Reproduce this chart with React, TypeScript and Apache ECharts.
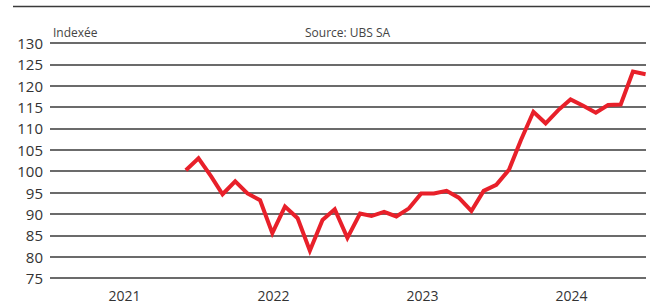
import React, { useEffect, useRef } from "react";
import * as echarts from "echarts";

const years = ["2021", "2022", "2023", "2024"];
const months = [
  "2021-11", "2021-12",
  "2022-01", "2022-02", "2022-03", "2022-04", "2022-05", "2022-06",
  "2022-07", "2022-08", "2022-09", "2022-10", "2022-11", "2022-12",
  "2023-01", "2023-02", "2023-03", "2023-04", "2023-05", "2023-06",
  "2023-07", "2023-08", "2023-09", "2023-10", "2023-11", "2023-12",
  "2024-01", "2024-02", "2024-03", "2024-04", "2024-05", "2024-06",
  "2024-07", "2024-08", "2024-09", "2024-10", "2024-11", "2024-12",
];
const values = [
  100.2, 103.0,
  98.8, 94.6, 97.6, 94.8, 93.2, 85.5,
  91.7, 89.0, 81.4, 88.6, 91.1, 84.4,
  90.1, 89.5, 90.5, 89.4, 91.3, 94.8,
  94.8, 95.4, 93.8, 90.7, 95.4, 96.8,
  100.3, 107.2, 113.9, 111.2, 114.3, 116.8,
  115.3, 113.7, 115.5, 115.6, 123.3, 122.7,
];
const yTicks = [75, 80, 85, 90, 95, 100, 105, 110, 115, 120, 125, 130];

const FONT = "'Open Sans', 'Noto Sans', sans-serif";

function monthEnd(s: string): number {
  const [y, m] = s.split("-").map(Number);
  return new Date(y, m, 0).getTime();
}

export default function App() {
  const ref = useRef<HTMLDivElement>(null);
  useEffect(() => {
    if (!ref.current) return;
    const chart = echarts.init(ref.current, null, { renderer: "svg" });
    const data = months.map((m, i) => [monthEnd(m), values[i]]);
    chart.setOption({
      animation: false,
      backgroundColor: "#ffffff",
      grid: { left: 50, right: 4, top: 43, bottom: 26 },
      xAxis: [
        {
          type: "category",
          data: years,
          boundaryGap: true,
          axisLine: { show: false },
          axisTick: { show: false },
          splitLine: { show: false },
          axisLabel: { color: "#333", fontSize: 14, fontFamily: FONT, margin: 10 },
        },
        {
          type: "time",
          min: new Date(2021, 0, 1).getTime(),
          max: new Date(2025, 0, 1).getTime(),
          show: false,
        },
      ],
      yAxis: {
        type: "value",
        min: yTicks[0],
        max: yTicks[yTicks.length - 1],
        interval: 5,
        axisLine: { show: false },
        axisTick: { show: false },
        splitLine: { show: true, lineStyle: { color: "#3a3a3a", width: 1.5 } },
        axisLabel: { color: "#333", fontSize: 15, fontFamily: FONT, margin: 7 },
      },
      graphic: [
        {
          type: "line",
          shape: { x1: 13, y1: 6.5, x2: 650, y2: 6.5 },
          style: { stroke: "#3a3a3a", lineWidth: 1.3 },
        },
        {
          type: "text",
          x: 53,
          y: 32,
          style: { text: "Indexée", fill: "#444", fontSize: 12, fontFamily: FONT, textVerticalAlign: "middle" },
        },
        {
          type: "text",
          x: 305,
          y: 32,
          style: { text: "Source: UBS SA", fill: "#444", fontSize: 12, fontFamily: FONT, textVerticalAlign: "middle" },
        },
      ],
      series: [
        {
          type: "line",
          xAxisIndex: 1,
          data,
          showSymbol: false,
          symbol: "none",
          lineStyle: { color: "#e8202a", width: 4, join: "miter", cap: "butt" },
        },
      ],
    });
    return () => chart.dispose();
  }, []);
  return (
    <div
      ref={ref}
      style={{ position: "fixed", left: 0, top: 0, width: 650, height: 304, background: "#fff" }}
    />
  );
}
